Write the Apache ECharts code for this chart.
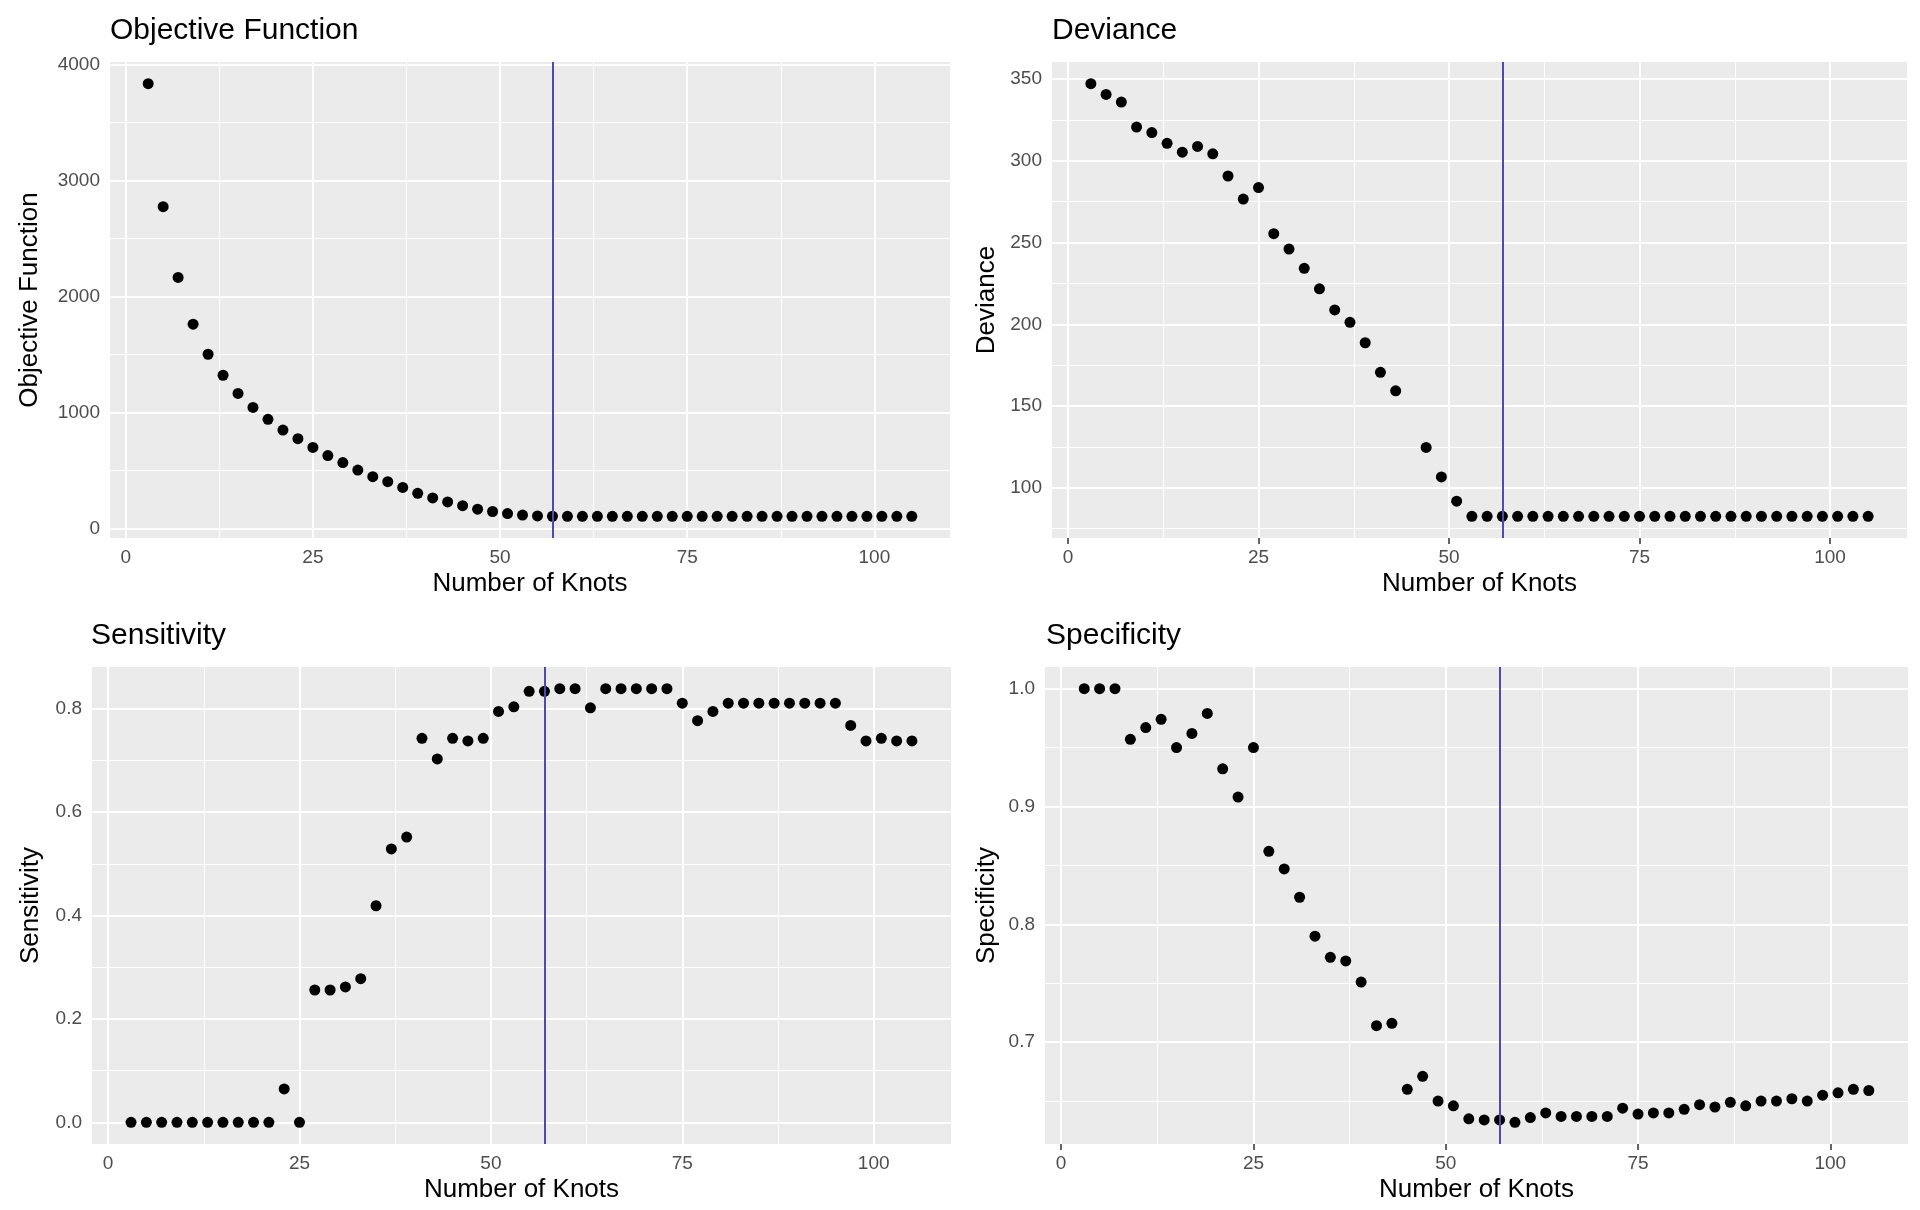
<!DOCTYPE html>
<html><head><meta charset="utf-8">
<script src="https://cdn.jsdelivr.net/npm/echarts@6/dist/echarts.min.js"></script>
<style>html,body{margin:0;padding:0;background:#fff}#c{width:1920px;height:1210px}</style>
</head><body><div id="c"></div><script>
const knots = [3,5,7,9,11,13,15,17,19,21,23,25,27,29,31,33,35,37,39,41,43,45,47,49,51,53,55,57,59,61,63,65,67,69,71,73,75,77,79,81,83,85,87,89,91,93,95,97,99,101,103,105];
const objective = [3835,2775,2165,1762,1503,1322,1165,1045,942,850,775,700,630,570,505,448,405,355,305,265,230,198,168,148,130,117,110,107,106,106,106,106,106,106,106,106,106,106,106,106,106,106,106,106,106,106,106,106,106,106,106,106];
const deviance = [347.2,340.6,335.9,320.6,317.3,310.7,305.3,308.8,304.3,290.7,276.6,283.6,255.4,246.0,234.2,221.7,208.8,201.2,188.7,170.6,159.3,null,124.7,106.6,91.8,82.5,82.5,82.5,82.5,82.5,82.5,82.5,82.5,82.5,82.5,82.5,82.5,82.5,82.5,82.5,82.5,82.5,82.5,82.5,82.5,82.5,82.5,82.5,82.5,82.5,82.5,82.5];
const sensitivity = [0,0,0,0,0,0,0,0,0,0,0.0645,0,0.256,0.256,0.262,0.278,0.419,0.529,0.552,0.743,0.703,0.743,0.738,0.743,0.795,0.804,0.834,0.834,0.839,0.839,0.802,0.839,0.839,0.839,0.839,0.839,0.811,0.777,0.795,0.811,0.811,0.811,0.811,0.811,0.811,0.811,0.811,0.768,0.738,0.743,0.738,0.738];
const specificity = [1,1,1,0.957,0.967,0.974,0.950,0.962,0.979,0.932,0.908,0.950,0.862,0.847,0.823,0.790,0.772,0.769,0.751,0.714,0.716,0.660,0.671,0.650,0.646,0.635,0.634,0.634,0.632,0.636,0.640,0.637,0.637,0.637,0.637,0.644,0.639,0.640,0.640,0.643,0.647,0.645,0.649,0.646,0.650,0.650,0.652,0.650,0.655,0.657,0.660,0.659];
const selectedKnots = 57;
const xBreaks = [0,25,50,75,100];
const xMinor = [12.5,37.5,62.5,87.5];
const objBreaks = [0,1000,2000,3000,4000];
const objMinor = [500,1500,2500,3500];
const devBreaks = [100,150,200,250,300,350];
const devMinor = [75,125,175,225,275,325];
const sensBreaks = [0,0.2,0.4,0.6,0.8];
const sensMinor = [0.1,0.3,0.5,0.7];
const specBreaks = [0.7,0.8,0.9,1.0];
const specMinor = [0.65,0.75,0.85,0.95];
const titles = ['Objective Function','Deviance','Sensitivity','Specificity'];
const xTitle = 'Number of Knots';

const FONT = "'Liberation Sans', Arial, sans-serif";
function expand(arr){
  const v = arr.filter(a => a !== null);
  const mn = Math.min(...v), mx = Math.max(...v), r = mx - mn;
  return [mn - 0.05*r, mx + 0.05*r];
}
const xr = expand(knots);
const panels = [
  {vals: objective, br: objBreaks, mi: objMinor, fmt: v => String(v), gap:67, grid:{left:110, top:62, width:840, height:476}, title:{left:110, top:16}},
  {vals: deviance, br: devBreaks, mi: devMinor, fmt: v => String(v), gap:52, grid:{left:1052, top:62, width:855, height:476}, title:{left:1052, top:16}},
  {vals: sensitivity, br: sensBreaks, mi: sensMinor, fmt: v => v.toFixed(1), gap:48, grid:{left:92, top:667, width:859, height:477}, title:{left:91, top:621}},
  {vals: specificity, br: specBreaks, mi: specMinor, fmt: v => v.toFixed(1), gap:45, grid:{left:1045, top:667, width:863, height:477}, title:{left:1046, top:621}}
];

const option = {animation:false, backgroundColor:'#fff', title:[], grid:[], xAxis:[], yAxis:[], series:[]};
panels.forEach((p, i) => {
  const yr = expand(p.vals);
  option.title.push({text: titles[i], left: p.title.left, top: p.title.top, padding:0,
    textStyle:{fontFamily:FONT, fontSize:30, fontWeight:'normal', color:'#000'}});
  option.grid.push(Object.assign({show:true, backgroundColor:'#ebebeb', borderWidth:0, containLabel:false, outerBoundsMode:'none'}, p.grid));
  option.xAxis.push({gridIndex:i, type:'value', min:xr[0], max:xr[1],
    splitLine:{show:false}, axisLine:{show:false},
    axisTick:{show:true, customValues:xBreaks, length:6, lineStyle:{color:'#333', width:1.5}},
    axisLabel:{customValues:xBreaks, margin:10, fontSize:19, color:'#4d4d4d', fontFamily:FONT, formatter: v => String(v)},
    name: xTitle, nameLocation:'middle', nameGap:33, nameTextStyle:{fontFamily:FONT, fontSize:26, color:'#000'}});
  option.yAxis.push({gridIndex:i, type:'value', min:yr[0], max:yr[1],
    splitLine:{show:false}, axisLine:{show:false},
    axisTick:{show:true, customValues:p.br, length:6, lineStyle:{color:'#333', width:1.5}},
    axisLabel:{customValues:p.br, margin:10, fontSize:19, color:'#4d4d4d', fontFamily:FONT, formatter: p.fmt},
    name: titles[i], nameLocation:'middle', nameGap: p.gap, nameTextStyle:{fontFamily:FONT, fontSize:26, color:'#000'}});
  const gl = [];
  xBreaks.forEach(v => gl.push({xAxis:v, lineStyle:{width:2}}));
  xMinor.forEach(v => gl.push({xAxis:v, lineStyle:{width:1}}));
  p.br.forEach(v => gl.push({yAxis:v, lineStyle:{width:2}}));
  p.mi.forEach(v => { if (v > yr[0] && v < yr[1]) gl.push({yAxis:v, lineStyle:{width:1}}); });
  option.series.push({type:'scatter', xAxisIndex:i, yAxisIndex:i, data:[], silent:true, z:1,
    markLine:{silent:true, z:1, symbol:['none','none'], label:{show:false}, emphasis:{disabled:true},
      lineStyle:{color:'#ffffff', type:'solid'}, data: gl}});
  option.series.push({type:'scatter', xAxisIndex:i, yAxisIndex:i, z:3, symbolSize:11,
    itemStyle:{color:'#000', opacity:1}, emphasis:{disabled:true},
    data: knots.map((k, j) => [k, p.vals[j]]).filter(d => d[1] !== null)});
  option.series.push({type:'scatter', xAxisIndex:i, yAxisIndex:i, data:[], silent:true, z:4,
    markLine:{silent:true, z:6, symbol:['none','none'], label:{show:false}, emphasis:{disabled:true},
      lineStyle:{color:'#4b4bb0', width:2, type:'solid'}, data:[{xAxis:selectedKnots}]}});
});
const chart = echarts.init(document.getElementById('c'), null, {renderer:'canvas'});
chart.setOption(option);
</script></body></html>
